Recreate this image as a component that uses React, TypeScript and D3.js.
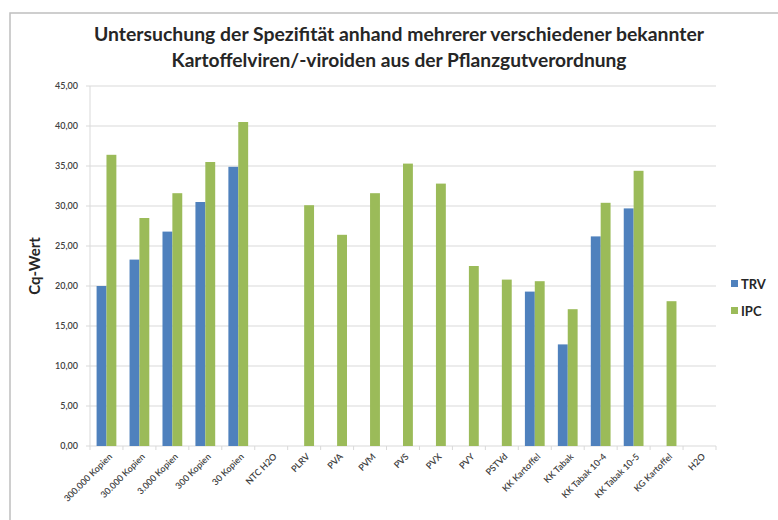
import React from "react";
import * as d3 from "d3";

const categories = [
  "300.000 Kopien", "30.000 Kopien", "3.000 Kopien", "300 Kopien", "30 Kopien",
  "NTC H2O", "PLRV", "PVA", "PVM", "PVS", "PVX", "PVY", "PSTVd",
  "KK Kartoffel", "KK Tabak", "KK Tabak 10-4", "KK Tabak 10-5", "KG Kartoffel", "H2O",
];
const trv = [20.0, 23.3, 26.8, 30.5, 34.9, 0, 0, 0, 0, 0, 0, 0, 0, 19.3, 12.7, 26.2, 29.7, 0, 0];
const ipc = [36.4, 28.5, 31.6, 35.5, 40.5, 0, 30.1, 26.4, 31.6, 35.3, 32.8, 22.5, 20.8, 20.6, 17.1, 30.4, 34.4, 18.1, 0];
const seriesNames = ["TRV", "IPC"];
const seriesColors = ["#4F81BD", "#9BBB59"];
const yTicks = [0, 5, 10, 15, 20, 25, 30, 35, 40, 45];
const titleLines = [
  "Untersuchung der Spezifität anhand mehrerer verschiedener bekannter",
  "Kartoffelviren/-viroiden aus der Pflanzgutverordnung",
];

const W = 778, H = 520;
const plot = { left: 90, right: 716, top: 86, bottom: 446 };
const FONT = "Lato, 'Open Sans', sans-serif";

export default function App() {
  const x = d3.scaleBand<string>().domain(categories).range([plot.left, plot.right]).paddingInner(0).paddingOuter(0);
  const y = d3.scaleLinear().domain([0, 45]).range([plot.bottom, plot.top]);
  const bw = x.bandwidth();
  const barW = bw * 0.3;
  const groupW = barW * 2;
  const fmt = (v: number) => v.toFixed(2).replace(".", ",");
  const data = [trv, ipc];

  return (
    <svg width={W} height={H} style={{ position: "absolute", left: 0, top: 0, background: "#fff" }} fontFamily={FONT}>
      <rect x={10} y={13} width={800} height={600} fill="#fff" stroke="#bfbfbf" strokeWidth={1.5} />
      {titleLines.map((t, i) => (
        <text key={i} x={399} y={41 + i * 26} textAnchor="middle" fontSize={18} fontWeight="bold" fill="#262626"
          textLength={i === 0 ? 610 : 455} lengthAdjust="spacingAndGlyphs">{t}</text>
      ))}
      {yTicks.map((t) => (
        <g key={t}>
          <line x1={plot.left} x2={plot.right} y1={y(t)} y2={y(t)} stroke="#d9d9d9" strokeWidth={1} />
          <line x1={plot.left - 4} x2={plot.left} y1={y(t)} y2={y(t)} stroke="#d9d9d9" strokeWidth={1} />
          <text x={78} y={y(t) + 3} textAnchor="end" fontSize={9} fontWeight={600} fill="#404040">{fmt(t)}</text>
        </g>
      ))}
      <line x1={plot.left} x2={plot.left} y1={plot.top} y2={plot.bottom} stroke="#d9d9d9" />
      {categories.map((c, i) => (
        <line key={"tk" + i} x1={x(c)!} x2={x(c)!} y1={plot.bottom} y2={plot.bottom + 4} stroke="#d9d9d9" />
      ))}
      <line x1={plot.right} x2={plot.right} y1={plot.bottom} y2={plot.bottom + 4} stroke="#d9d9d9" />
      {data.map((s, si) =>
        s.map((v, i) =>
          v > 0 ? (
            <rect key={si + "-" + i}
              x={x(categories[i])! + (bw - groupW) / 2 + si * barW}
              y={y(v)} width={barW} height={y(0) - y(v)} fill={seriesColors[si]} />
          ) : null
        )
      )}
      {categories.map((c, i) => {
        const cx = x(c)! + bw / 2 + 4;
        const cy = plot.bottom + 9;
        return (
          <text key={"xl" + i} transform={`translate(${cx},${cy}) rotate(-45)`} textAnchor="end" fontSize={9}
            fontWeight={600} fill="#404040" dy="0.35em">{c}</text>
        );
      })}
      <text transform={`translate(40,266) rotate(-90)`} textAnchor="middle" fontSize={15} fontWeight="bold" fill="#262626">Cq-Wert</text>
      {seriesNames.map((n, i) => (
        <g key={n}>
          <rect x={731} y={280 + i * 27} width={7} height={7} fill={seriesColors[i]} />
          <text x={741} y={284 + i * 27} dy="0.35em" fontSize={13} fontWeight="bold" fill="#262626">{n}</text>
        </g>
      ))}
    </svg>
  );
}
